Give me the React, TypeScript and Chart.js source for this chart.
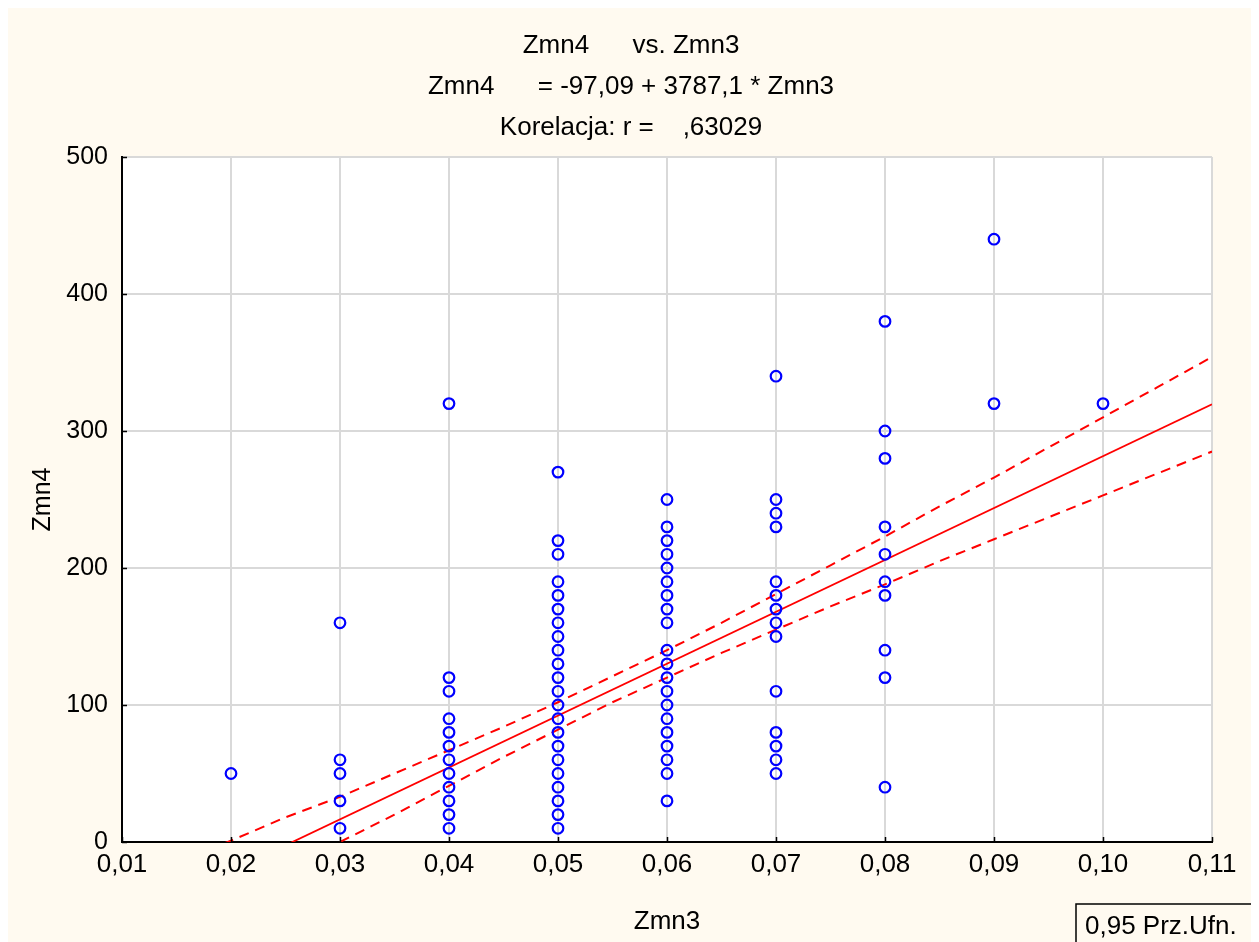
import React, { useEffect, useRef } from "react";
import { Chart, registerables } from "chart.js";

Chart.register(...registerables);

// ---- Data ----
const zmn3Levels = [0.02, 0.03, 0.04, 0.05, 0.06, 0.07, 0.08, 0.09, 0.1];
const zmn4At002 = [50];
const zmn4At003 = [160, 60, 50, 30, 10];
const zmn4At004 = [320, 120, 110, 90, 80, 70, 60, 50, 40, 30, 20, 10];
const zmn4At005 = [270, 220, 210, 190, 180, 170, 160, 150, 140, 130, 120, 110, 100, 90, 80, 70, 60, 50, 40, 30, 20, 10];
const zmn4At006 = [250, 230, 220, 210, 200, 190, 180, 170, 160, 140, 130, 120, 110, 100, 90, 80, 70, 60, 50, 30];
const zmn4At007 = [340, 250, 240, 230, 190, 180, 170, 160, 150, 110, 80, 70, 60, 50];
const zmn4At008 = [380, 300, 280, 230, 210, 190, 180, 140, 120, 40];
const zmn4At009 = [440, 320];
const zmn4At010 = [320];
const zmn4Columns = [zmn4At002, zmn4At003, zmn4At004, zmn4At005, zmn4At006, zmn4At007, zmn4At008, zmn4At009, zmn4At010];

// Regression line from the title: Zmn4 = -97,09 + 3787,1 * Zmn3
const regIntercept = -97.09;
const regSlope = 3787.1;
const regLineX = [0.01, 0.11];

// 0.95 confidence band
const bandX = [0.015, 0.02, 0.025, 0.03, 0.035, 0.04, 0.045, 0.05, 0.055, 0.06, 0.065, 0.07, 0.075, 0.08, 0.085, 0.09, 0.095, 0.1, 0.105, 0.11];
const bandUpper = [-15, 1, 18, 33, 50, 67, 84, 102, 121, 140, 160, 181, 202, 223, 245, 266, 288, 310, 332, 354];
const bandLower = [-66, -44, -23, 0, 20, 41, 62, 82, 102, 120, 138, 155, 172, 188, 205, 221, 237, 253, 269, 285];

const xTicks = [0.01, 0.02, 0.03, 0.04, 0.05, 0.06, 0.07, 0.08, 0.09, 0.1, 0.11];
const yTicks = [0, 100, 200, 300, 400, 500];

const titleLines = ["Zmn4      vs. Zmn3", "Zmn4      = -97,09 + 3787,1 * Zmn3", "Korelacja: r =    ,63029"];
const xTitle = "Zmn3";
const yTitle = "Zmn4";
const bandLabel = "0,95 Prz.Ufn.";

const FONT = "'Liberation Sans', Arial, sans-serif";
const FS = 25;
const TFS = 26;

export default function App() {
  const ref = useRef<HTMLCanvasElement | null>(null);

  useEffect(() => {
    document.documentElement.style.overflow = "hidden";
    document.body.style.overflow = "hidden";
    const canvas = ref.current;
    if (!canvas) return;

    const points: { x: number; y: number }[] = [];
    zmn3Levels.forEach((xv, i) => {
      zmn4Columns[i].forEach((yv) => points.push({ x: xv, y: yv }));
    });
    const regPoints = regLineX.map((x) => ({ x, y: regIntercept + regSlope * x }));
    const upperPts = bandX.map((x, i) => ({ x, y: bandUpper[i] }));
    const lowerPts = bandX.map((x, i) => ({ x, y: bandLower[i] }));

    const decor = {
      id: "decor",
      beforeDraw(chart: any) {
        const { ctx, chartArea } = chart;
        ctx.save();
        ctx.fillStyle = "#ffffff";
        ctx.fillRect(chartArea.left, chartArea.top, chartArea.right - chartArea.left, chartArea.bottom - chartArea.top);
        ctx.restore();
      },
      afterDraw(chart: any) {
        const { ctx, chartArea, scales } = chart;
        ctx.save();
        ctx.strokeStyle = "#000";
        ctx.lineWidth = 1.5;
        ctx.beginPath();
        xTicks.forEach((t) => {
          const px = Math.round(scales.x.getPixelForValue(t)) + 0.5;
          ctx.moveTo(px, chartArea.bottom);
          ctx.lineTo(px, chartArea.bottom - 5);
        });
        yTicks.forEach((t) => {
          const py = Math.round(scales.y.getPixelForValue(t)) + 0.5;
          ctx.moveTo(chartArea.left, py);
          ctx.lineTo(chartArea.left + 5, py);
        });
        ctx.stroke();
        // legend box
        const w = chart.width;
        const h = chart.height;
        ctx.lineWidth = 1.5;
        ctx.strokeRect(w - 178, h - 38, 176, 50);
        ctx.fillStyle = "#000";
        ctx.font = `${TFS}px ${FONT}`;
        ctx.textBaseline = "middle";
        ctx.textAlign = "left";
        ctx.fillText(bandLabel, w - 169, h - 15);
        ctx.restore();
      },
    };

    const chart = new Chart(canvas, {
      type: "scatter",
      data: {
        datasets: [
          {
            label: "Zmn4",
            data: points,
            pointStyle: "circle",
            pointRadius: 5.3,
            pointBorderWidth: 2.2,
            borderColor: "#0000ff",
            backgroundColor: "rgba(0,0,0,0)",
            showLine: false,
            order: 0,
          },
          {
            label: "regression",
            data: regPoints,
            showLine: true,
            borderColor: "#ff0000",
            borderWidth: 1.8,
            pointRadius: 0,
            order: 1,
          },
          {
            label: "upper",
            data: upperPts,
            showLine: true,
            borderColor: "#ff0000",
            borderWidth: 2,
            borderDash: [10, 7],
            pointRadius: 0,
            order: 1,
          },
          {
            label: "lower",
            data: lowerPts,
            showLine: true,
            borderColor: "#ff0000",
            borderWidth: 2,
            borderDash: [10, 7],
            pointRadius: 0,
            order: 1,
          },
        ],
      },
      options: {
        animation: false,
        responsive: false,
        layout: { padding: { left: 0, right: 0, top: 0, bottom: 0 } },
        plugins: {
          legend: { display: false },
          tooltip: { enabled: false },
          title: {
            display: true,
            text: titleLines,
            color: "#000",
            font: { family: FONT, size: TFS, weight: "normal", lineHeight: 41 / TFS },
            padding: { top: 17, bottom: 9 },
          },
        },
        scales: {
          x: {
            type: "linear",
            min: 0.01,
            max: 0.11,
            afterBuildTicks: (scale: any) => {
              scale.ticks = xTicks.map((v) => ({ value: v }));
            },
            afterFit: (scale: any) => {
              scale.height = 100;
            },
            ticks: {
              color: "#000",
              font: { family: FONT, size: TFS },
              padding: 7,
              maxRotation: 0,
              autoSkip: false,
              callback: (v: any) => Number(v).toFixed(2).replace(".", ","),
            },
            grid: { color: "#d9d9d9", lineWidth: 2, drawTicks: false },
            border: { display: true, color: "#000", width: 2 },
            title: {
              display: true,
              text: xTitle,
              color: "#000",
              font: { family: FONT, size: TFS },
              padding: { top: 0, bottom: 5 },
            },
          },
          y: {
            type: "linear",
            min: 0,
            max: 500,
            afterBuildTicks: (scale: any) => {
              scale.ticks = yTicks.map((v) => ({ value: v }));
            },
            afterFit: (scale: any) => {
              scale.width = 114;
            },
            ticks: {
              color: "#000",
              font: { family: FONT, size: FS },
              padding: 14,
              callback: (v: any) => String(v),
            },
            grid: { color: "#d9d9d9", lineWidth: 2, drawTicks: false },
            border: { display: true, color: "#000", width: 2 },
            title: {
              display: true,
              text: yTitle,
              color: "#000",
              font: { family: FONT, size: FS },
              padding: { top: 20, bottom: 0 },
            },
          },
          rightSpace: {
            type: "linear",
            position: "right",
            display: true,
            min: 0,
            max: 1,
            afterFit: (scale: any) => {
              scale.width = 42;
            },
            ticks: { display: false },
            grid: { display: false, drawTicks: false },
            border: { display: false },
            title: { display: false },
          },
        },
      },
      plugins: [decor],
    } as any);

    return () => chart.destroy();
  }, []);

  return (
    <canvas
      ref={ref}
      width={1246}
      height={934}
      style={{ display: "block", background: "#fffaf0" }}
    />
  );
}
